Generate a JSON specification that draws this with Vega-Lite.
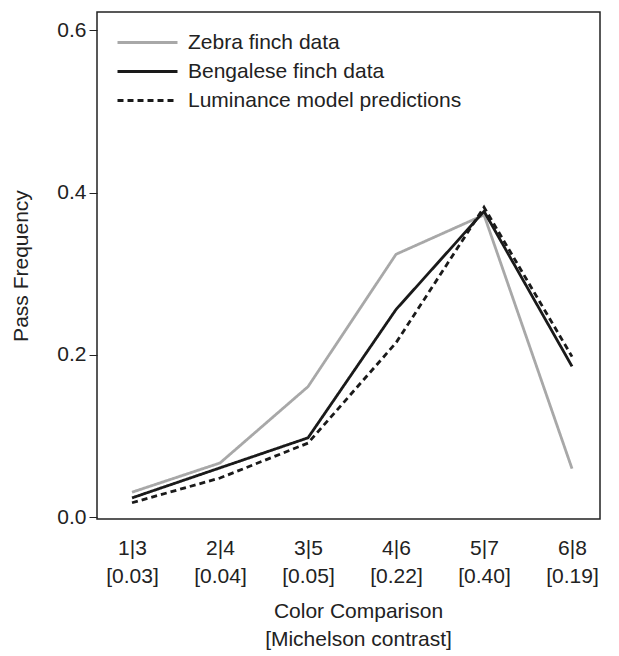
{
  "$schema": "https://vega.github.io/schema/vega-lite/v6.json",
  "autosize": "none",
  "width": 503,
  "height": 507,
  "padding": {"left": 97, "top": 12, "right": 19, "bottom": 137},
  "background": "white",
  "config": {
    "font": "Liberation Sans",
    "view": {"stroke": "#222222", "strokeWidth": 1.5},
    "axis": {"labelFont": "Liberation Sans", "titleFont": "Liberation Sans", "labelColor": "#222222", "titleColor": "#222222", "grid": false, "domain": false}
  },
  "data": {
    "values": [
      {"x": 1, "series": "Zebra finch data", "y": 0.031},
      {"x": 2, "series": "Zebra finch data", "y": 0.067},
      {"x": 3, "series": "Zebra finch data", "y": 0.161},
      {"x": 4, "series": "Zebra finch data", "y": 0.324},
      {"x": 5, "series": "Zebra finch data", "y": 0.3725},
      {"x": 6, "series": "Zebra finch data", "y": 0.060},
      {"x": 1, "series": "Bengalese finch data", "y": 0.024},
      {"x": 2, "series": "Bengalese finch data", "y": 0.061},
      {"x": 3, "series": "Bengalese finch data", "y": 0.098},
      {"x": 4, "series": "Bengalese finch data", "y": 0.256},
      {"x": 5, "series": "Bengalese finch data", "y": 0.377},
      {"x": 6, "series": "Bengalese finch data", "y": 0.186},
      {"x": 1, "series": "Luminance model predictions", "y": 0.018},
      {"x": 2, "series": "Luminance model predictions", "y": 0.0485},
      {"x": 3, "series": "Luminance model predictions", "y": 0.0915},
      {"x": 4, "series": "Luminance model predictions", "y": 0.215},
      {"x": 5, "series": "Luminance model predictions", "y": 0.382},
      {"x": 6, "series": "Luminance model predictions", "y": 0.198}
    ]
  },
  "mark": {"type": "line", "strokeWidth": 2.8, "clip": true},
  "encoding": {
    "x": {
      "field": "x", "type": "quantitative",
      "scale": {"domain": [0.602, 6.318], "nice": false, "zero": false},
      "axis": {
        "values": [1, 2, 3, 4, 5, 6],
        "labelExpr": "[[''],['1|3','[0.03]'],['2|4','[0.04]'],['3|5','[0.05]'],['4|6','[0.22]'],['5|7','[0.40]'],['6|8','[0.19]']][datum.value]",
        "labelFontSize": 21,
        "labelLineHeight": 28,
        "labelPadding": 18,
        "labelBaseline": "top",
        "tickSize": 0,
        "title": ["Color Comparison", "[Michelson contrast]"],
        "titleFontSize": 21,
        "titleFontWeight": "normal",
        "titleLineHeight": 28,
        "titlePadding": 14,
        "titleX": 261
      }
    },
    "y": {
      "field": "y", "type": "quantitative",
      "scale": {"domain": [-0.002, 0.6224], "nice": false, "zero": false},
      "axis": {
        "values": [0, 0.2, 0.4, 0.6],
        "format": ".1f",
        "labelFontSize": 21,
        "labelPadding": 3,
        "tickSize": 8,
        "tickColor": "#222222",
        "tickWidth": 1,
        "title": "Pass Frequency",
        "titleFontSize": 21,
        "titleFontWeight": "normal",
        "titlePadding": 25
      }
    },
    "color": {
      "field": "series", "type": "nominal",
      "scale": {"domain": ["Zebra finch data", "Bengalese finch data", "Luminance model predictions"], "range": ["#a8a8a8", "#1a1a1a", "#1a1a1a"]},
      "legend": {
        "title": null,
        "orient": "none",
        "legendX": 40,
        "legendY": 20,
        "padding": 0,
        "symbolType": "M-6,0H6",
        "symbolSize": 100,
        "symbolStrokeWidth": 2.8,
        "labelOffset": 30,
        "labelFontSize": 21,
        "labelLimit": 0,
        "labelColor": "#222222",
        "labelFont": "Liberation Sans",
        "rowPadding": 7
      }
    },
    "strokeDash": {
      "field": "series", "type": "nominal",
      "scale": {"domain": ["Zebra finch data", "Bengalese finch data", "Luminance model predictions"], "range": [[1, 0], [1, 0], [6, 4]]},
      "legend": null
    }
  }
}
